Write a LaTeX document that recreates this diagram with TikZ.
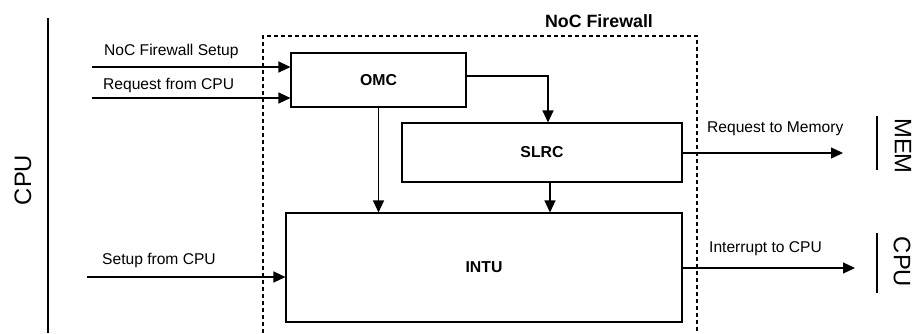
\documentclass[tikz,border=0pt]{standalone}
\usepackage{fontspec}
\setmainfont{Liberation Sans}
\usetikzlibrary{arrows.meta}
\begin{document}
\begin{tikzpicture}[x=1pt,y=-1pt,
  blk/.style={draw,line width=1.1pt,inner sep=0pt,font=\fontsize{15.8}{18}\selectfont\bfseries},
  lbl/.style={inner sep=0pt,anchor=base west,font=\fontsize{15.6}{18}\selectfont},
  side/.style={inner sep=0pt,font=\fontsize{23.8}{28}\selectfont},
  arr/.style={line width=1.2pt,-{Triangle[length=12pt,width=11pt]}},
  bar/.style={line width=1.2pt},
  fence/.style={line width=1.1pt,dash pattern=on 4pt off 3pt}]
\useasboundingbox (0,0) rectangle (919,333);

% firewall boundary (open at the bottom)
\draw[fence] (263,333) -- (263,36) -- (697,36) -- (697,333);
\node[inner sep=0pt,anchor=base,font=\fontsize{17.8}{20}\selectfont\bfseries] (fwtitle) at (599,27) {NoC Firewall};

% functional blocks
\node[blk,minimum width=175pt,minimum height=54pt] (omc) at (378.5,80) {OMC};
\node[blk,minimum width=280pt,minimum height=59pt] (slrc) at (542,152.5) {SLRC};
\node[blk,minimum width=396pt,minimum height=109pt] (intu) at (484,267.5) {INTU};

% CPU side
\coordinate (cputop) at (48,18);
\coordinate (cpubot) at (48,333);
\draw[bar] (cputop) -- (cpubot);
\node[side,rotate=90] (cpu) at (23,180) {CPU};

% memory and CPU on the right
\coordinate (memtop) at (877,116);
\coordinate (membot) at (877,170);
\draw[bar] (memtop) -- (membot);
\node[side,rotate=-90] (mem) at (903,146) {MEM};
\coordinate (cpurtop) at (877,233);
\coordinate (cpurbot) at (877,293);
\draw[bar] (cpurtop) -- (cpurbot);
\node[side,rotate=-90] (cpur) at (902,262) {CPU};

% inputs
\coordinate (insetup) at (92,67);
\coordinate (inreq) at (92,98);
\coordinate (insetcpu) at (87,277);
\draw[arr] (insetup) -- (insetup -| omc.west);
\draw[arr] (inreq) -- (inreq -| omc.west);
\draw[arr] (insetcpu) -- (insetcpu -| intu.west);
\node[lbl] (lsetup) at (104,55) {NoC Firewall Setup};
\node[lbl] (lreq) at (103,89) {Request from CPU};
\node[lbl] (lsetcpu) at (102,264) {Setup from CPU};

% internal paths
\draw[arr] ([yshift=4pt]omc.east) -| ([xshift=6pt]slrc.north);
\draw[arr] (omc.south) -- (omc.south |- intu.north);
\draw[arr] ([xshift=8pt]slrc.south) -- ([xshift=8pt]slrc.south |- intu.north);

% outputs
\coordinate (outmem) at (843,153);
\coordinate (outcpu) at (855,268);
\draw[arr] (slrc.east |- outmem) -- (outmem);
\draw[arr] (intu.east |- outcpu) -- (outcpu);
\node[lbl] (lmem) at (707,132) {Request to Memory};
\node[lbl] (lcpu) at (709,252) {Interrupt to CPU};
\end{tikzpicture}
\end{document}
